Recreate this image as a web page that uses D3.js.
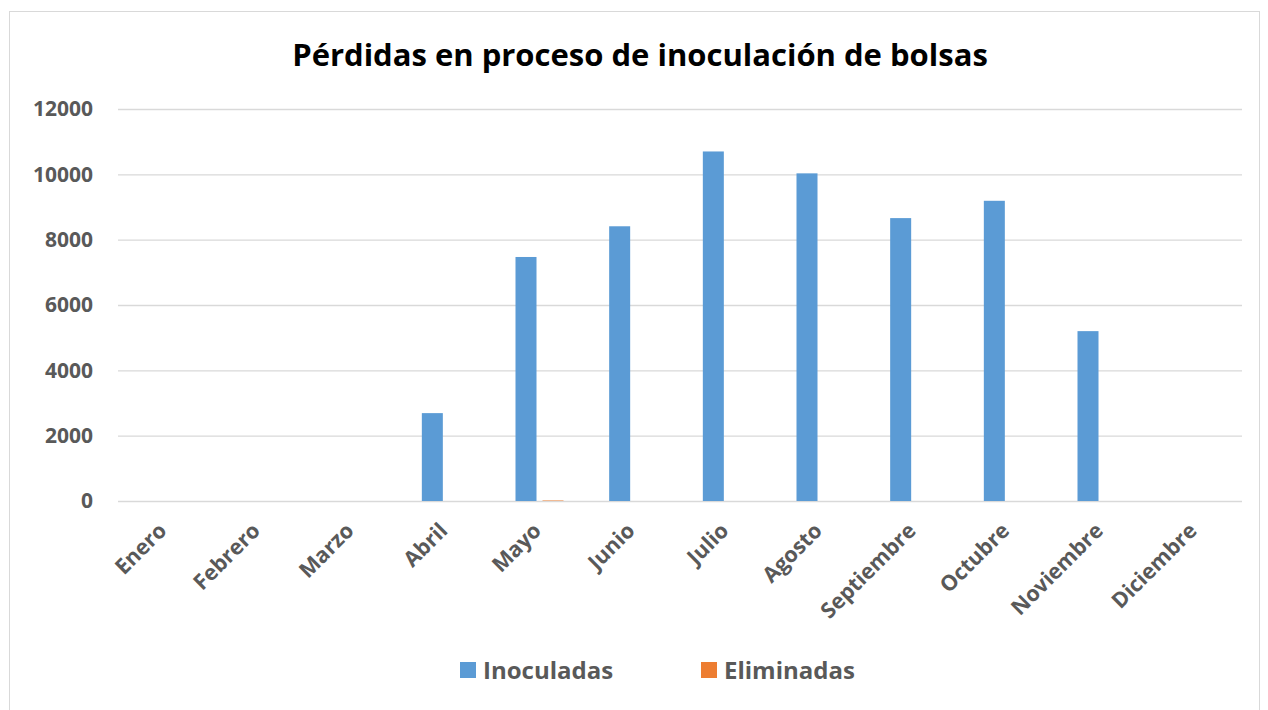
<!DOCTYPE html>
<html>
  <head>
    <title>Pérdidas en proceso de inoculación de bolsas</title>
    <meta charset="utf-8" />
    <style>
      body { margin: 0; background: #fff; }
    </style>
  </head>
  <body>
    <div id="chart"></div>
    <script src="https://d3js.org/d3.v7.min.js"></script>
    <script type="text/javascript">
        const months = ["Enero", "Febrero", "Marzo", "Abril", "Mayo", "Junio",
            "Julio", "Agosto", "Septiembre", "Octubre", "Noviembre", "Diciembre"];
        const inoculadas = [0, 0, 0, 2690, 7470, 8410, 10700, 10030, 8660, 9190, 5200, 0];
        const eliminadas = [0, 0, 0, 0, 15, 0, 0, 0, 0, 0, 0, 0];
        const seriesNames = ["Inoculadas", "Eliminadas"];
        const seriesColors = ["#5B9BD5", "#ED7D31"];
        const yTicks = [0, 2000, 4000, 6000, 8000, 10000, 12000];

        const width = 1268;
        const height = 710;
        const margin = ({top: 109, right: 26, bottom: 209, left: 118});
        const font = "'Open Sans', sans-serif";
        const textColor = "#595959";

        const data = months.map((m, i) => ({month: m, values: [inoculadas[i], eliminadas[i]]}));

        const x0 = d3.scaleBand()
            .domain(months)
            .range([margin.left, width - margin.right])
            .paddingInner(0.4875)
            .paddingOuter(0.24375);
        const x1 = d3.scaleBand()
            .domain(d3.range(seriesNames.length))
            .range([0, x0.bandwidth()])
            .paddingInner(0.222);
        const y = d3.scaleLinear()
            .domain([0, 12000])
            .range([height - margin.bottom, margin.top]);

        const svg = d3.select("#chart")
            .append("svg")
            .attr("width", width)
            .attr("height", height);

        // chart frame
        svg.append("rect")
            .attr("x", 9.5)
            .attr("y", 11.5)
            .attr("width", 1250)
            .attr("height", 720)
            .attr("fill", "#fff")
            .attr("stroke", "#D9D9D9");

        svg.append("text")
            .attr("x", 640)
            .attr("y", 66)
            .attr("text-anchor", "middle")
            .attr("font-family", font)
            .attr("font-weight", "bold")
            .attr("font-size", 31)
            .attr("fill", "#000")
            .text("Pérdidas en proceso de inoculación de bolsas");

        // gridlines + y labels
        const yAxis = svg.append("g")
            .attr("transform", `translate(${margin.left},0)`)
            .call(d3.axisLeft(y).tickValues(yTicks).tickFormat(d3.format("d"))
                .tickSize(-(width - margin.left - margin.right)).tickPadding(25))
            .call(g => g.select(".domain").remove());
        yAxis.selectAll(".tick line").attr("stroke", "#D9D9D9").attr("stroke-width", 1.3);
        yAxis.selectAll(".tick text")
            .attr("font-family", font)
            .attr("font-weight", "bold")
            .attr("font-size", 21)
            .attr("fill", textColor);

        // bars
        svg.append("g")
            .selectAll("g")
            .data(data)
            .join("g")
            .attr("transform", d => `translate(${x0(d.month)},0)`)
            .selectAll("rect")
            .data(d => d.values.map((v, i) => ({v, i})))
            .join("rect")
            .attr("x", d => x1(d.i))
            .attr("width", x1.bandwidth())
            .attr("y", d => y(d.v))
            .attr("height", d => y(0) - y(d.v))
            .attr("fill", d => seriesColors[d.i]);

        // x labels
        svg.append("g")
            .selectAll("text")
            .data(months)
            .join("text")
            .attr("transform", d => `translate(${x0(d) + x0.bandwidth() / 2 + 3},${y(0) + 31}) rotate(-45)`)
            .attr("text-anchor", "end")
            .attr("font-family", font)
            .attr("font-weight", "bold")
            .attr("font-size", 21.5)
            .attr("fill", textColor)
            .text(d => d);

        // legend
        const legendX = [460, 701];
        const legend = svg.append("g")
            .selectAll("g")
            .data(seriesNames)
            .join("g")
            .attr("transform", (d, i) => `translate(${legendX[i]},662)`);
        legend.append("rect")
            .attr("width", 16)
            .attr("height", 16)
            .attr("fill", (d, i) => seriesColors[i]);
        legend.append("text")
            .attr("x", 23)
            .attr("y", 17)
            .attr("font-family", font)
            .attr("font-weight", "bold")
            .attr("font-size", 24)
            .attr("fill", textColor)
            .text(d => d);
    </script>
  </body>
</html>
